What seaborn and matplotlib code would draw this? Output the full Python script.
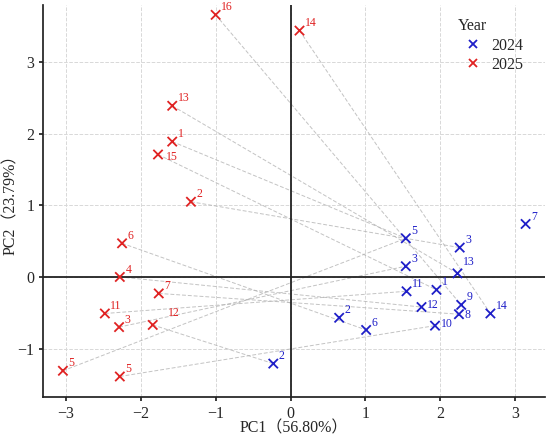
import seaborn as sns
import pandas as pd
import matplotlib.pyplot as plt

# PCA scores
pc1_2024 = [-0.23, 1.54, 2.26, 1.54, 2.23, 3.14, 1.55, 1.95, 1.75, 2.28, 2.25, 2.67, 0.65, 1.01, 1.93]
pc2_2024 = [-1.21, 0.54, 0.41, 0.15, 0.05, 0.74, -0.20, -0.18, -0.42, -0.39, -0.52, -0.51, -0.57, -0.74, -0.68]
labels_2024 = ["2", "5", "3", "3", "13", "7", "11", "1", "12", "9", "8", "14", "2", "6", "10"]

pc1_2025 = [-1.00, 0.12, -1.58, -1.58, -1.77, -1.33, -2.25, -2.28, -1.76, -2.48, -2.29, -1.84, -3.04, -2.28]
pc2_2025 = [3.66, 3.44, 2.39, 1.89, 1.71, 1.05, 0.47, 0.00, -0.23, -0.51, -0.70, -0.67, -1.31, -1.39]
labels_2025 = ["16", "14", "13", "1", "15", "2", "6", "4", "7", "11", "3", "12", "5", "5"]

# index of the 2024 point each 2025 point is joined to
links = [9, 11, 4, 1, 7, 2, 13, 8, 10, 6, 3, 0, 1, 14]

df = pd.concat([
    pd.DataFrame({"PC1": pc1_2024, "PC2": pc2_2024, "label": labels_2024, "Year": "2024"}),
    pd.DataFrame({"PC1": pc1_2025, "PC2": pc2_2025, "label": labels_2025, "Year": "2025"}),
], ignore_index=True)

sns.set_theme(style="ticks")
plt.rcParams["font.family"] = ["Liberation Serif", "Noto Sans CJK SC"]
plt.rcParams["axes.unicode_minus"] = True

fig = plt.figure(figsize=(5.5, 4.38), dpi=100)
ax = fig.add_axes([0.079, 0.093, 0.912, 0.896])

# connecting lines between the two years
for i, j in enumerate(links):
    ax.plot([pc1_2025[i], pc1_2024[j]], [pc2_2025[i], pc2_2024[j]],
            color="#b4b4b4", lw=0.7, ls=(0, (4, 2)), alpha=0.8, zorder=1)

ax.axhline(0, color="#222222", lw=1.3, zorder=2)
ax.axvline(0, color="#222222", lw=1.3, zorder=2)

palette = {"2024": "#1f1fc8", "2025": "#e02222"}
sns.scatterplot(data=df, x="PC1", y="PC2", hue="Year", hue_order=["2024", "2025"],
                palette=palette, marker="x", s=45, linewidth=1.3, ax=ax, zorder=3)

# point labels
offsets = {("2025", 4): (6, -6), ("2025", 11): (11, 4), ("2024", 10): (4, -5),
           ("2024", 14): (4, -3), ("2024", 8): (4, -3), ("2024", 4): (4, 4)}
for year, xs, ys, labs in [("2024", pc1_2024, pc2_2024, labels_2024),
                           ("2025", pc1_2025, pc2_2025, labels_2025)]:
    for k, (x, y, t) in enumerate(zip(xs, ys, labs)):
        dx, dy = offsets.get((year, k), (4, 1))
        ax.annotate(t, (x, y), xytext=(dx, dy), textcoords="offset points",
                    ha="left", va="bottom", fontsize=8.5, color=palette[year])

ax.set_xlim(-3.3, 3.4)
ax.set_ylim(-1.68, 3.8)
ax.set_xticks([-3, -2, -1, 0, 1, 2, 3])
ax.set_yticks([-1, 0, 1, 2, 3])
ax.grid(True, color="#d8d8d8", ls="--", lw=0.7)
ax.set_axisbelow(True)
sns.despine(ax=ax)
ax.spines["left"].set_color("#222222")
ax.spines["bottom"].set_color("#222222")
ax.tick_params(labelsize=11.5, length=3, color="#222222")

ax.set_xlabel("PC1（56.80%）", fontsize=11.5, labelpad=-1)
ax.set_ylabel("PC2（23.79%）", fontsize=11.5, labelpad=-1)

leg = ax.legend(title="Year", loc="upper right", bbox_to_anchor=(0.975, 0.99),
                frameon=False, fontsize=11.5, title_fontsize=11.5,
                handletextpad=0.1, labelspacing=0.2, borderaxespad=0.2,
                markerscale=0.8)
leg._legend_box.align = "left"

fig.savefig("out.png", dpi=100)
